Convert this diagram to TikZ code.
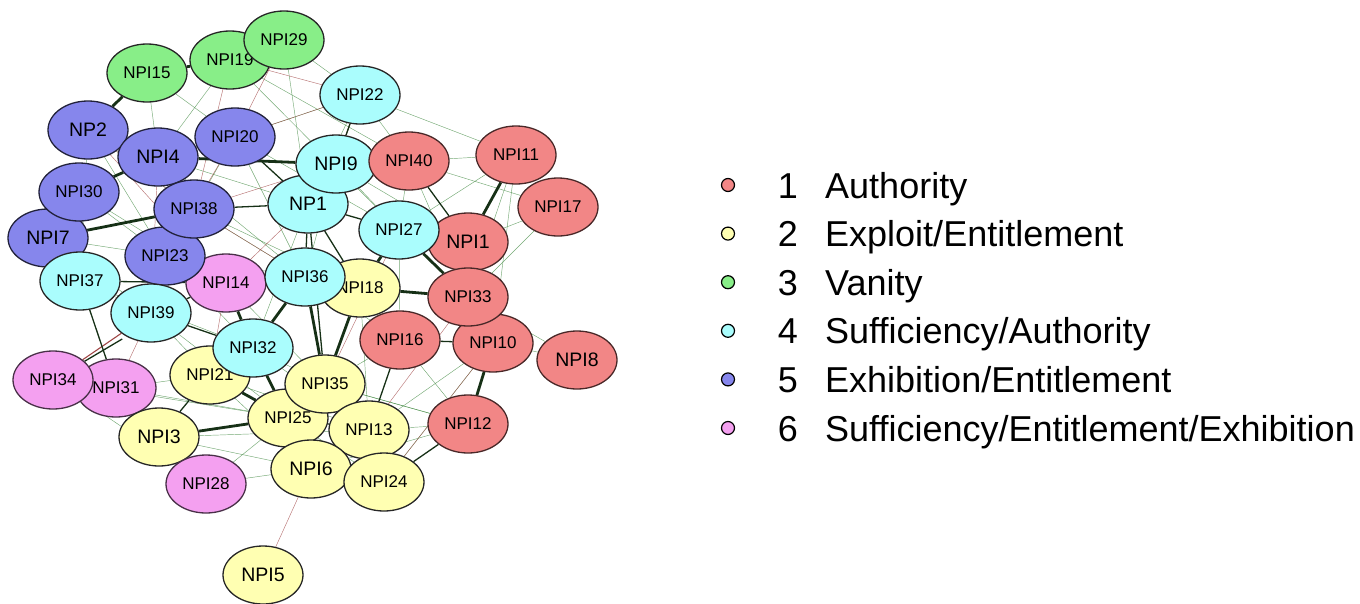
\documentclass[tikz,border=0pt]{standalone}
\usepackage{fontspec}
\setmainfont{Liberation Sans}
\usetikzlibrary{shapes.geometric,backgrounds}

\definecolor{cauth}{RGB}{242,134,134}
\definecolor{cexpl}{RGB}{255,255,178}
\definecolor{cvan}{RGB}{136,238,136}
\definecolor{csuff}{RGB}{170,253,253}
\definecolor{cexhi}{RGB}{134,134,236}
\definecolor{cmix}{RGB}{244,160,240}
\definecolor{edgedark}{RGB}{22,48,22}
\definecolor{edgegreen}{RGB}{70,140,70}
\definecolor{edgered}{RGB}{160,70,70}

\tikzset{
  item/.style={ellipse, minimum width=80pt, minimum height=58pt, inner sep=0pt,
    line width=1.3pt, font=\fontsize{17}{18}\selectfont},
  big/.style={font=\fontsize{19.5}{21}\selectfont},
  auth/.style={item, fill=cauth, draw=cauth!30!black},
  expl/.style={item, fill=cexpl, draw=black!85},
  van/.style={item, fill=cvan, draw=black!85},
  suff/.style={item, fill=csuff, draw=black!85},
  exhi/.style={item, fill=cexhi, draw=cexhi!25!black},
  mix/.style={item, fill=cmix, draw=cmix!30!black},
  strong/.style={draw=edgedark, line width=2.8pt},
  mid/.style={draw=edgedark, line width=1.3pt},
  weakg/.style={draw=edgegreen, line width=0.45pt, opacity=0.75},
  weakr/.style={draw=edgered, line width=0.45pt, opacity=0.75},
  keydot/.style={circle, minimum size=13pt, inner sep=0pt, line width=1.2pt, draw=black},
  keytext/.style={anchor=base west, inner sep=0pt, font=\fontsize{36}{40}\selectfont},
  keynum/.style={anchor=base, inner sep=0pt, font=\fontsize{36}{40}\selectfont}
}

\begin{document}
\begin{tikzpicture}[x=1pt, y=-1pt]
\useasboundingbox (0,0) rectangle (1360,603);

% network nodes (later nodes are drawn over earlier ones)
\node[van]  (n15) at (147,73)  {NPI15};
\node[van]  (n19) at (230,60)  {NPI19};
\node[van]  (n29) at (284,40)  {NPI29};
\node[suff] (n22) at (360,95)  {NPI22};
\node[exhi,big] (p2) at (88,130) {NP2};
\node[exhi] (n20) at (235,137) {NPI20};
\node[exhi,big] (n4) at (158,157) {NPI4};
\node[exhi,big] (n7) at (48,238) {NPI7};
\node[exhi] (n30) at (79,192)  {NPI30};
\node[mix]  (n14) at (226,283) {NPI14};
\node[exhi] (n23) at (165,256) {NPI23};
\node[exhi] (n38) at (194,209) {NPI38};
\node[suff] (n37) at (80,281)  {NPI37};
\node[suff] (n39) at (151,313) {NPI39};
\node[suff,big] (p1) at (308,204) {NP1};
\node[suff,big] (n9) at (336,164) {NPI9};
\node[auth] (n40) at (409,161) {NPI40};
\node[auth] (n11) at (516,155) {NPI11};
\node[auth] (n17) at (558,207) {NPI17};
\node[auth,big] (n1) at (468,242) {NPI1};
\node[suff] (n27) at (399,230) {NPI27};
\node[expl] (n18) at (360,288) {NPI18};
\node[suff] (n36) at (305,277) {NPI36};
\node[auth] (n10) at (493,343) {NPI10};
\node[auth] (n33) at (468,297) {NPI33};
\node[auth] (n16) at (400,340) {NPI16};
\node[auth,big] (n8) at (577,360) {NPI8};
\node[auth] (n12) at (468,424) {NPI12};
\node[mix]  (n31) at (116,388) {NPI31};
\node[mix]  (n34) at (53,380)  {NPI34};
\node[expl] (n21) at (210,375) {NPI21};
\node[suff] (n32) at (253,348) {NPI32};
\node[expl,big] (n3) at (159,437) {NPI3};
\node[mix]  (n28) at (206,484) {NPI28};
\node[expl] (n25) at (288,418) {NPI25};
\node[expl] (n35) at (325,384) {NPI35};
\node[expl] (n13) at (369,430) {NPI13};
\node[expl,big] (n6) at (311,469) {NPI6};
\node[expl] (n24) at (384,482) {NPI24};
\node[expl,big] (n5) at (263,575) {NPI5};

\begin{pgfonlayer}{background}
% weak positive partial correlations
\foreach \a/\b in {n11/n33, n22/n40, n22/n11, n29/n22, n19/n40, n40/n11, n15/n4,
  n15/n20, n19/n4, n16/n12, n13/n12, n10/n8, n17/n40, n17/n1, n11/n27, n40/n27,
  n9/n27, p2/n38, n30/n23, n7/n39, n37/n39, n39/n21, n31/n21, n3/n28, n28/n25,
  n34/n25, n21/n6, n3/n6, n32/n35, n36/n14, n38/n36, n4/n36, n20/n36, n23/n32,
  n16/n35, n18/n16, n12/n6, n10/n13, p2/n23, p2/n37, n30/n37, n8/n33, n12/n35,
  n18/n13, n22/n20, n29/p1, n19/n27, n20/n38, n4/p1, n38/n18, n23/n36, n14/n35,
  n39/n25, n31/n25, n37/n32, n21/n13, n28/n6, n3/n13, n40/n33, n9/n1, n11/n10,
  n17/n33, n27/n16, p1/n32, n9/n36, n22/p1, n30/n14, n7/n23, n14/n18, n34/n28,
  n31/n3, n32/n13, n35/n12, n24/n10, n6/n13, n25/n24, n36/n16, n20/n27}
  \draw[weakg] (\a) -- (\b);
% weak negative partial correlations
\foreach \a/\b in {n19/n22, n20/n22, n10/n24, n6/n5, n39/n31, p2/n14, p2/n38,
  n29/n20, n19/n38, n38/n36, p1/n14, n20/n23, n9/n38, n4/n39, n40/p1, n27/n35,
  n33/n13, n14/n21}
  \draw[weakr] (\a) -- (\b);
\draw[weakr, line width=1pt] (n22) -- (n9);
\draw[edgered, line width=1.1pt] (n39) -- (n34);
% moderate edges
\foreach \a/\b in {n20/p1, n38/p1, n37/n14, n37/n31, p1/n36, p1/n18, p1/n27,
  n40/n1, n16/n10, n16/n13, n3/n21, n22/n9, n39/n32, n12/n24, p1/n35, n4/n38,
  n39/n14, n23/n14, n4/n20, n13/n25, n6/n24, n25/n6}
  \draw[mid] (\a) -- (\b);
\draw[mid] ([yshift=-5pt]n39.south west) -- (n34);
% strong edges
\foreach \a/\b in {n15/p2, n15/n19, n19/n29, n7/n38, n11/n1, n18/n33, n27/n33,
  n27/n18, n10/n12, n36/n35, n18/n35, n3/n25, n32/n25, n21/n25, n14/n32,
  n36/n32, n13/n24, n30/n4, n4/n9, p2/n4}
  \draw[strong] (\a) -- (\b);
\end{pgfonlayer}

% legend
\foreach \c/\t [count=\i from 0] in {cauth/Authority, cexpl/Exploit\slash Entitlement,
  cvan/Vanity, csuff/Sufficiency\slash Authority, cexhi/Exhibition\slash Entitlement,
  cmix/Sufficiency\slash Entitlement\slash Exhibition}{
  \node[keydot, fill=\c] (dot\i) at (728, 185+48.6*\i) {};
  \pgfmathtruncatemacro{\num}{\i+1}
  \node[keynum] (num\i) at (788, 198+48.6*\i) {\num};
  \node[keytext] (lab\i) at (825, 198+48.6*\i) {\t};
}
\end{tikzpicture}
\end{document}
